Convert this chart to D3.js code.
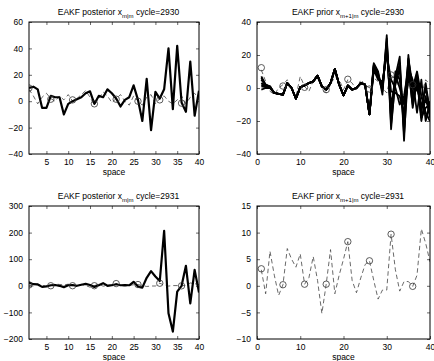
<!DOCTYPE html>
<html>
<head>
<meta charset="utf-8">
<script src="https://cdn.jsdelivr.net/npm/d3@7"></script>
<style>
  body { margin: 0; background: #fff; }
  svg { display: block; font-family: 'Liberation Sans', Arial, Helvetica, sans-serif; }
</style>
</head>
<body>
<script>
// grid points and observation points
const space = d3.range(1, 41);
const obsSpace = [1, 6, 11, 16, 21, 26, 31, 36];

// cycle 2930, posterior
const post2930 = [10, 11, 9, -5, -5, 4, 3, 3, -10, -2, 0, 1.5, 3, 6, 7.5, -2, 4, 3, 9, 6,
  2, -4, 1, 3, 12, 1, -15, 17, -22, 7, 2, 9, 40, -6, 42, -1, -8, 30, -11, 8];
const truth2930 = [9, 4, -2, 3, 6, 2, 0, 4, 1, 5, 0, 2, 5, 8, 3, -3, 2, 7, 4, -1,
  2, 5, 0, -3, 4, 0, -3, 3, 5, -2, 2, 4, 0, -2, 1, 4, -2, 3, 6, 1];
const obs2930 = [10, 1.5, 1, -2, 1.5, 0, 1, -1.5];

// cycle 2930, prior (ensemble members)
const prior2930 = [
  [7, 2, 1, -3, -3.5, -4, 3, 0, -6.5, 0.5, 1.5, 3, 4, 7.5, 1, -1, 3, 11.5, 2, -4.5,
    1.5, -1, 0, 3, 2, -16, 15, 10, -4, 32, -25, 7, 19, -32, 20, -7, 9, -15, 3, -15],
  [6, 1.8, 1, -3, -3.5, -4, 3, 0, -6.5, 0.5, 1.5, 3, 4, 7.5, 1, -1, 3, 11.5, 2, -4.5,
    1.5, -1, 0, 3, 2, -16, 14, 9, -1, 30, -22, 4, 15, -28, 10, -10, 3, -12, 0, -14],
  [5, 1.5, 0.5, -3, -3.5, -4, 3, 0, -6.5, 0.5, 1.5, 3, 4, 7.5, 1, -1, 3, 11.5, 2, -4.5,
    1.5, -1, 0, 3, 2, -16, 14, 8, -2, 28, -18, 10, 5, -20, 15, -12, 5, -20, -5, -18],
  [3, 1, 0.5, -3, -3.5, -4, 3, 0, -6.5, 0.5, 1.5, 3, 4, 7.5, 1, -1, 3, 11.5, 2, -4.5,
    1.5, -1, 0, 3, 2, -16, 13, 7, 0, 26, -10, 2, 12, -25, 18, -5, 0, -10, -8, -12],
  [2, 0.8, 0.3, -3, -3.5, -4, 3, 0, -6.5, 0.5, 1.5, 3, 4, 7.5, 1, -1, 3, 11.5, 2, -4.5,
    1.5, -1, 0, 3, 2, -16, 13, 7, 1, 24, -14, 8, 0, -10, 17, 2, 6, -18, -12, -10],
  [1, 0.5, 0, -3, -3.5, -4, 3, 0, -6.5, 0.5, 1.5, 3, 4, 7.5, 1, -1, 3, 11.5, 2, -4.5,
    1.5, -1, 0, 3, 2, -16, 12, 6, 2, 22, -2, -3, -5, -15, 5, 0, 10, -5, -15, -20],
  [-1, 0, 0, -3, -3.5, -4, 3, 0, -6.5, 0.5, 1.5, 3, 4, 7.5, 1, -1, 3, 11.5, 2, -4.5,
    1.5, -1, 0, 3, 2, -16, 11, 5, 4, 20, 5, 0, -10, -5, 12, 5, -15, 5, -20, -8]
];
const truthPrior2930 = [11, 4, -2, -4, 0, 2, 5, -1, -5, 7, 1, -2, 4, 6, 0, -3, 2, 7, 5, -1,
  5, 3, -1, 5, 2, 0, 6, 4, 0, -3, 8, 5, 0, -4, 2, 6, 3, -4, 5, 2];
const obsPrior2930 = [12.3, 1.2, 0.4, -1, 5.3, -0.6, 7.9, 2];

// cycle 2931
const post2931 = [12, 6, 5, -4, -2, 2, 3, 0, -5, 2, 3, 0, 4, 7, 3, -4, 2, 10, 0, 2,
  6, 2, 3, 2, 15, -3, -7, 30, 55, 35, 18, 207, -103, -172, -22, 0, 75, -66, 60, -25];
const truth2931 = [3, -1.5, 6.5, 2, -1.8, 0.2, 7, 5, 3.5, 6, 0.3, 1.5, 5.5, 1, -5.2, 0.3, 6.8, -1.5, 2, 5,
  8.3, 1, -1.3, 1.5, 4, 4.7, 1, -2.5, -0.8, -0.8, 9.7, 3, -1, 0.8, 0.8, -0.1, 2, 10.7, 8, 4.5];
const obs2931 = [3.2, 0.2, 0.3, 0.3, 8.3, 4.7, 9.7, -0.1];

const panels = [
  { title: 'EAKF posterior x', sub: 'm|m', cycle: ' cycle=2930', box: [29, 22, 199, 154],
    xDomain: [1, 40], xTicks: [5, 10, 15, 20, 25, 30, 35, 40],
    yDomain: [-40, 60], yTicks: [-40, -20, 0, 20, 40, 60],
    solid: [post2930], truth: truth2930, obs: obs2930, lw: 2.2 },
  { title: 'EAKF prior x', sub: 'm+1|m', cycle: ' cycle=2930', box: [257, 22, 430, 154],
    xDomain: [0, 40], xTicks: [0, 10, 20, 30, 40],
    yDomain: [-40, 40], yTicks: [-40, -20, 0, 20, 40],
    solid: prior2930, truth: truthPrior2930, obs: obsPrior2930, lw: 1.8 },
  { title: 'EAKF posterior x', sub: 'm|m', cycle: ' cycle=2931', box: [29, 206, 199, 339],
    xDomain: [1, 40], xTicks: [5, 10, 15, 20, 25, 30, 35, 40],
    yDomain: [-200, 300], yTicks: [-200, -100, 0, 100, 200, 300],
    solid: [post2931], truth: truth2931, obs: obs2931, lw: 2.2 },
  { title: 'EAKF prior x', sub: 'm+1|m', cycle: ' cycle=2931', box: [257, 206, 430, 339],
    xDomain: [0, 40], xTicks: [0, 10, 20, 30, 40],
    yDomain: [-10, 15], yTicks: [-10, -5, 0, 5, 10, 15],
    solid: [], truth: truth2931, obs: obs2931, lw: 2 }
];

const svg = d3.select('body').append('svg')
  .attr('width', 434)
  .attr('height', 361);

panels.forEach((p, i) => drawPanel(p, i));

function drawPanel(p, i) {
  const [left, top, right, bottom] = p.box;
  const x = d3.scaleLinear().domain(p.xDomain).range([left, right]);
  const y = d3.scaleLinear().domain(p.yDomain).range([bottom, top]);
  const g = svg.append('g');

  g.append('clipPath').attr('id', 'clip' + i)
    .append('rect')
    .attr('x', left).attr('y', top)
    .attr('width', right - left).attr('height', bottom - top);

  const plot = g.append('g').attr('clip-path', 'url(#clip' + i + ')');

  const line = d3.line()
    .x((d, j) => x(space[j]))
    .y(d => y(d));

  plot.append('path')
    .datum(p.truth)
    .attr('d', line)
    .attr('fill', 'none')
    .attr('stroke', '#444')
    .attr('stroke-width', 0.8)
    .attr('stroke-dasharray', '4.5,3');

  plot.selectAll('path.member')
    .data(p.solid)
    .enter()
    .append('path')
    .attr('class', 'member')
    .attr('d', line)
    .attr('fill', 'none')
    .attr('stroke', '#000')
    .attr('stroke-width', p.lw)
    .attr('stroke-linejoin', 'round');

  plot.selectAll('circle')
    .data(p.obs)
    .enter()
    .append('circle')
    .attr('cx', (d, j) => x(obsSpace[j]))
    .attr('cy', d => y(d))
    .attr('r', 3.2)
    .attr('fill', 'none')
    .attr('stroke', '#333')
    .attr('stroke-width', 0.8);

  // axes, ticks pointing inward on all four sides
  const fontSize = '8.5px';
  const bottomAxis = g.append('g')
    .attr('transform', 'translate(0,' + bottom + ')')
    .call(d3.axisBottom(x).tickValues(p.xTicks).tickSize(-3).tickPadding(5));
  g.append('g')
    .attr('transform', 'translate(0,' + top + ')')
    .call(d3.axisTop(x).tickValues(p.xTicks).tickSize(-3).tickFormat(''));
  const leftAxis = g.append('g')
    .attr('transform', 'translate(' + left + ',0)')
    .call(d3.axisLeft(y).tickValues(p.yTicks).tickSize(-3).tickPadding(6));
  g.append('g')
    .attr('transform', 'translate(' + right + ',0)')
    .call(d3.axisRight(y).tickValues(p.yTicks).tickSize(-3).tickFormat(''));

  g.selectAll('.domain').remove();
  g.selectAll('.tick line').attr('stroke', '#000').attr('stroke-width', 0.6);
  [bottomAxis, leftAxis].forEach(a => a.selectAll('text')
    .attr('font-size', fontSize)
    .attr('font-family', null)
    .attr('fill', '#000'));

  g.append('rect')
    .attr('x', left).attr('y', top)
    .attr('width', right - left).attr('height', bottom - top)
    .attr('fill', 'none')
    .attr('stroke', '#000')
    .attr('stroke-width', 1);

  g.append('text')
    .attr('x', (left + right) / 2)
    .attr('y', bottom + 21)
    .attr('text-anchor', 'middle')
    .attr('font-size', fontSize)
    .text('space');

  const title = g.append('text')
    .attr('x', (left + right) / 2 + 4.5)
    .attr('y', top - 7)
    .attr('text-anchor', 'middle')
    .attr('font-size', fontSize);
  title.append('tspan').text(p.title);
  title.append('tspan').attr('font-size', '6px').attr('dy', 2.5).text(p.sub);
  title.append('tspan').attr('dy', -2.5).text(p.cycle);
}
</script>
</body>
</html>
